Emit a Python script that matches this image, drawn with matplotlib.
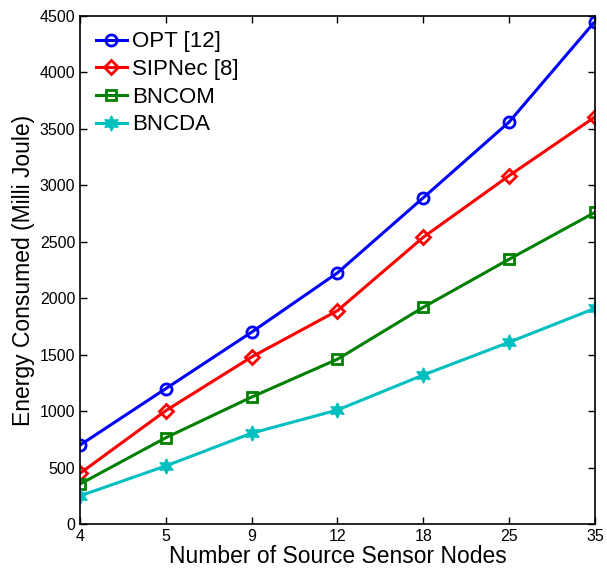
import matplotlib
matplotlib.use("Agg")
import matplotlib.pyplot as plt

plt.rcParams['font.family'] = ['Liberation Sans', 'DejaVu Sans']

nodes = ['4', '5', '9', '12', '18', '25', '35']
opt = [700, 1200, 1700, 2225, 2890, 3560, 4450]
sipnec = [450, 1005, 1480, 1890, 2540, 3085, 3605]
bncom = [355, 765, 1125, 1460, 1920, 2345, 2760]
bncda = [250, 515, 805, 1010, 1320, 1610, 1910]

fig = plt.figure(figsize=(6.07, 5.69), dpi=100)
ax = fig.add_axes([0.132, 0.079, 0.848, 0.893])

x = range(len(nodes))
ax.plot(x, opt, color='#0000ff', lw=2.2, marker='o', ms=8, mfc='none', mew=2, label='OPT [12]')
ax.plot(x, sipnec, color='#ff0000', lw=2.2, marker='D', ms=7, mfc='none', mew=2, label='SIPNec [8]')
ax.plot(x, bncom, color='#008000', lw=2.2, marker='s', ms=7.5, mfc='none', mew=2, label='BNCOM')
ax.plot(x, bncda, color='#00bfbf', lw=2.2, marker=(6, 1, 0), ms=11, mew=1, label='BNCDA')

ax.set_xlim(0, len(nodes) - 1)
ax.set_ylim(0, 4500)
ax.set_xticks(list(x))
ax.set_xticklabels(nodes)
ax.set_yticks(range(0, 4501, 500))
ax.tick_params(direction='in', top=True, right=True, labelsize=11.5, length=5, width=1)
for s in ax.spines.values():
    s.set_linewidth(1.2)

ax.set_xlabel('Number of Source Sensor Nodes', fontsize=16.5, labelpad=1)
ax.set_ylabel('Energy Consumed (Milli Joule)', fontsize=16.5, labelpad=3)
ax.legend(loc='upper left', frameon=False, fontsize=16, handlelength=1.4,
          handletextpad=0.25, labelspacing=0.3, borderaxespad=0.3)

fig.savefig('out.png', dpi=100)
